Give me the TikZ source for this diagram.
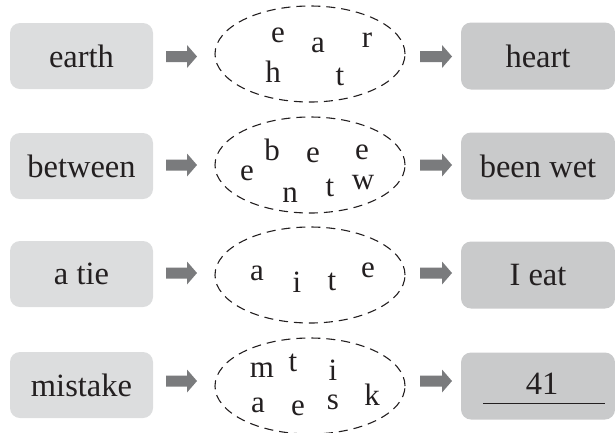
\documentclass[tikz,border=0pt]{standalone}
\usepackage{fontspec}
\setmainfont{Liberation Serif}
\usetikzlibrary{shapes.geometric}
\definecolor{leftfill}{HTML}{DCDDDE}
\definecolor{rightfill}{HTML}{C9CACB}
\definecolor{arrowgray}{HTML}{7A7B7D}
\definecolor{ink}{HTML}{231F20}
\begin{document}
\begin{tikzpicture}[x=1pt,y=-1pt,
  txt/.style={font=\fontsize{32.5}{38}\selectfont, text=ink, inner sep=0pt},
  leftbox/.style={txt, rounded corners=10pt, fill=leftfill, minimum width=143pt, minimum height=66pt},
  rightbox/.style={txt, rounded corners=10pt, fill=rightfill, minimum width=154pt, minimum height=67pt},
  scramble/.style={ellipse, draw=ink, line width=1.1pt, dash pattern=on 9pt off 6pt, minimum width=190pt, minimum height=96pt, inner sep=0pt},
  letter/.style={font=\fontsize{31}{36}\selectfont, text=ink, inner sep=0pt},
  arrowfill/.style={fill=arrowgray}
]
\useasboundingbox (0,0) rectangle (615,432);

% row 1
\node[leftbox] (l1) at (81.5,56) {earth};
\node[scramble] (e1) at (310,54) {};
\node[rightbox] (r1) at (538,56) {heart};
\node[letter] (e1a) at (278,35) {e};
\node[letter] (e1b) at (318,45) {a};
\node[letter] (e1c) at (367,40) {r};
\node[letter] (e1d) at (273,72) {h};
\node[letter] (e1e) at (340,77) {t};

% row 2
\node[leftbox] (l2) at (81.5,166) {between};
\node[scramble] (e2) at (310,165) {};
\node[rightbox] (r2) at (538,166) {been wet};
\node[letter] (e2a) at (272,150) {b};
\node[letter] (e2b) at (313,155) {e};
\node[letter] (e2c) at (362,152) {e};
\node[letter] (e2d) at (247,173) {e};
\node[letter] (e2e) at (290,195) {n};
\node[letter] (e2f) at (330,188) {t};
\node[letter] (e2g) at (363,183) {w};

% row 3
\node[leftbox] (l3) at (81.5,274) {a tie};
\node[scramble] (e3) at (310,275) {};
\node[rightbox] (r3) at (538,275) {I eat};
\node[letter] (e3a) at (257,273) {a};
\node[letter] (e3b) at (297,282) {i};
\node[letter] (e3c) at (332,282) {t};
\node[letter] (e3d) at (368,270) {e};

% row 4
\node[leftbox] (l4) at (81.5,385) {mistake};
\node[scramble] (e4) at (310,386) {};
\node[rightbox] (r4) at (538,386) {};
\node[txt] (n41) at (542,384) {41};
\coordinate (u1) at (483,403);
\coordinate (u2) at (605,403);
\draw[ink, line width=0.9pt] (u1) -- (u2);
\node[letter] (e4a) at (262,370) {m};
\node[letter] (e4b) at (293,363) {t};
\node[letter] (e4c) at (333,370) {i};
\node[letter] (e4d) at (258,405) {a};
\node[letter] (e4e) at (298,408) {e};
\node[letter] (e4f) at (333,402) {s};
\node[letter] (e4g) at (372,395) {k};

% block arrows
\foreach \i/\y in {1/56.5,2/165,3/273,4/381}{
  \coordinate (al\i) at (181.5,\y);
  \coordinate (ar\i) at (436,\y);
  \fill[arrowfill, shift={(al\i)}] (-15.5,-5.5) -- (5.5,-5.5) -- (5.5,-11.5) -- (15.5,0) -- (5.5,11.5) -- (5.5,5.5) -- (-15.5,5.5) -- cycle;
  \fill[arrowfill, shift={(ar\i)}] (-16,-5.5) -- (6,-5.5) -- (6,-11.5) -- (16,0) -- (6,11.5) -- (6,5.5) -- (-16,5.5) -- cycle;
}
\end{tikzpicture}
\end{document}
